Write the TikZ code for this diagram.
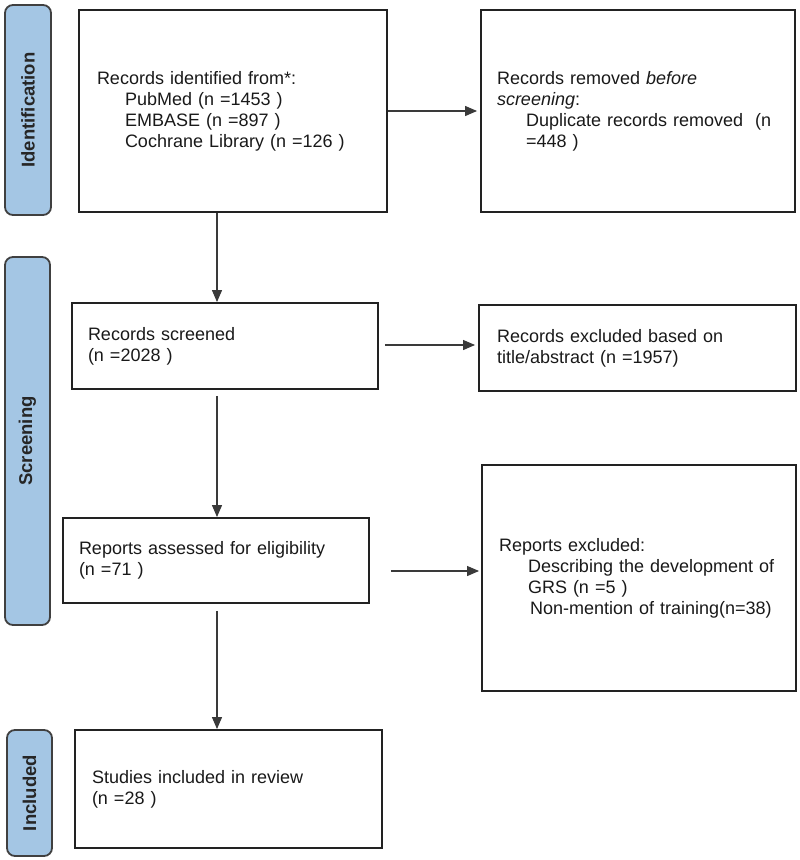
\documentclass[tikz,border=0pt]{standalone}
\usepackage{fontspec}
\setmainfont{Liberation Sans}
\usetikzlibrary{arrows.meta,calc}
\definecolor{sidefill}{HTML}{A4C6E4}
\definecolor{boxline}{HTML}{222222}
\definecolor{arrline}{HTML}{3A3A3A}
\begin{document}
\begin{tikzpicture}[x=1pt,y=-1pt,
  box/.style={draw=boxline, line width=1.9pt, inner ysep=0pt, align=left,
              font=\fontsize{18}{21}\selectfont, text=black!90},
  sidebar/.style={draw=black!75, line width=1.8pt, fill=sidefill, rounded corners=8pt,
              rotate=90, inner sep=0pt, font=\fontsize{18.5}{21}\selectfont\bfseries, text=black!85},
  arr/.style={draw=arrline, line width=1.2pt, -{Triangle[length=12pt,width=10pt]}}]
\useasboundingbox (0,0) rectangle (800,860);

% phase sidebars
\node[sidebar, minimum width=210pt, minimum height=46pt] (sid) at (28,110) {Identification};
\node[sidebar, minimum width=368pt, minimum height=45pt] (ssc) at (27.5,441) {Screening};
\node[sidebar, minimum width=126pt, minimum height=45pt] (sin) at (29.5,793) {Included};

% boxes
\node[box, minimum height=202pt, text width=272pt, inner xsep=18pt] (b1) at (233,111)
  {Records identified from*:\\
   \hspace*{28pt}PubMed (n =1453 )\\
   \hspace*{28pt}EMBASE (n =897 )\\
   \hspace*{28pt}Cochrane Library (n =126 )};
\node[box, minimum height=202pt, text width=282pt, inner xsep=16pt] (b2) at (638,111)
  {Records removed \textit{before}\\
   \textit{screening}:\\
   \hspace*{29pt}\mbox{Duplicate records removed\ \ (n}\\
   \hspace*{29pt}=448 )};
\node[box, minimum height=86pt, text width=274pt, inner xsep=16pt] (b3) at (225,346)
  {Records screened\\(n =2028 )};
\node[box, minimum height=86pt, text width=281pt, inner xsep=18pt] (b5) at (637.5,348)
  {Records excluded based on\\title/abstract (n =1957)};
\node[box, minimum height=85pt, text width=274pt, inner xsep=16pt] (b4) at (216,560.5)
  {\mbox{Reports assessed for eligibility}\\(n =71 )};
\node[box, minimum height=226pt, text width=280pt, inner xsep=17pt] (b6) at (639,578)
  {Reports excluded:\\
   \hspace*{29pt}\mbox{Describing the development of}\\
   \hspace*{29pt}GRS (n =5 )\\
   \hspace*{31pt}\mbox{Non-mention of training(n=38)}};
\node[box, minimum height=118pt, text width=273pt, inner xsep=17pt] (b7) at (228.5,789)
  {Studies included in review\\(n =28 )};

% connectors
\coordinate (ax) at (217,0);
\draw[arr, shorten >=3pt] (b1.east) -- (b2.west);
\draw[arr] (b1.south -| ax) -- (b3.north -| ax);
\draw[arr, shorten <=6pt] (b3.south -| ax) -- (b4.north -| ax);
\draw[arr, shorten <=7pt] (b4.south -| ax) -- (b7.north -| ax);
\draw[arr, shorten <=6pt, shorten >=3pt] ([yshift=1pt]b3.east) -- ([yshift=1pt]b3.east -| b5.west);
\draw[arr, shorten <=21pt, shorten >=2pt] ([yshift=-10.5pt]b4.east) -- ([yshift=-10.5pt]b4.east -| b6.west);
\end{tikzpicture}
\end{document}
